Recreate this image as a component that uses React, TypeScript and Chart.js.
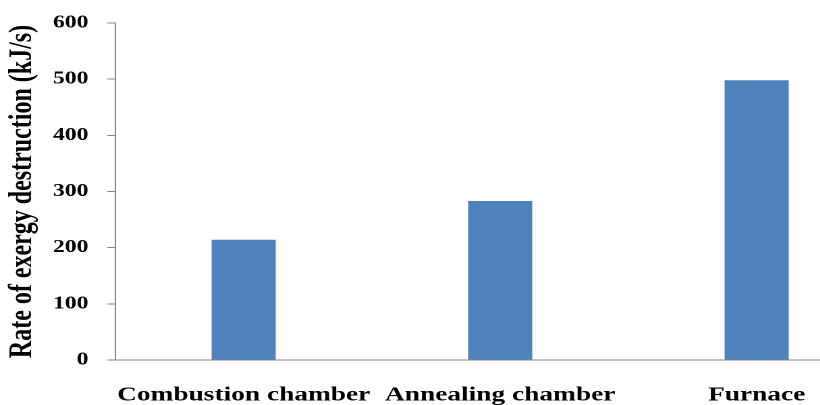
import React, { useEffect, useRef } from "react";
import { Chart, registerables } from "chart.js";

Chart.register(...registerables);

const categories = ["Combustion chamber", "Annealing chamber", "Furnace"];
const destructionRate = [214, 283, 498];
const yTickMin = 0;
const yTickMax = 600;
const yTickStep = 100;

const FONT = "'Liberation Serif', 'Times New Roman', serif";
const STRETCH = 1.35;
const LOCAL_W = 660;
const H = 405;

export default function App() {
  const ref = useRef<HTMLCanvasElement | null>(null);

  useEffect(() => {
    if (!ref.current) return;
    const chart = new Chart(ref.current, {
      type: "bar",
      data: {
        labels: categories,
        datasets: [
          {
            label: "Rate of exergy destruction (kJ/s)",
            data: destructionRate,
            backgroundColor: "#4F81BD",
            borderWidth: 0,
            categoryPercentage: 1,
            barPercentage: 0.25,
          },
        ],
      },
      options: {
        responsive: false,
        animation: false,
        devicePixelRatio: 2,
        layout: { padding: { top: 23, right: LOCAL_W - 655.5, bottom: 0, left: 0 } },
        plugins: { legend: { display: false }, tooltip: { enabled: false }, title: { display: false } },
        scales: {
          x: {
            grid: { display: false },
            border: { display: true, color: "#868686", width: 1 },
            ticks: {
              color: "#000",
              padding: 15,
              maxRotation: 0,
              autoSkip: false,
              font: { family: FONT, size: 20.3, weight: "bold" },
            },
            afterFit: (s: any) => {
              s.height = 45;
            },
          },
          y: {
            min: yTickMin,
            max: yTickMax,
            grid: {
              display: true,
              drawOnChartArea: false,
              drawTicks: true,
              tickLength: 6,
              color: "#868686",
            },
            border: { display: true, color: "#868686", width: 1 },
            ticks: {
              stepSize: yTickStep,
              color: "#000",
              padding: 14,
              font: { family: FONT, size: 17.5, weight: "bold" },
            },
            title: {
              display: true,
              text: "Rate of exergy destruction (kJ/s)",
              color: "#000",
              padding: { top: 2.5, bottom: 0 },
              font: { family: FONT, size: 24, weight: "bold" },
            },
            afterFit: (s: any) => {
              s.width = 85.5;
              s.paddingTop = 10;
              s.paddingBottom = 10;
            },
          },
        },
      },
    });
    return () => chart.destroy();
  }, []);

  return (
    <div
      style={{
        position: "fixed",
        left: 0,
        top: 0,
        width: 820,
        height: H,
        overflow: "hidden",
        background: "#fff",
      }}
    >
      <div
        style={{
          width: LOCAL_W,
          height: H,
          transform: `scaleX(${STRETCH})`,
          transformOrigin: "0 0",
        }}
      >
        <canvas ref={ref} width={LOCAL_W} height={H} style={{ width: LOCAL_W, height: H, display: "block" }} />
      </div>
    </div>
  );
}
